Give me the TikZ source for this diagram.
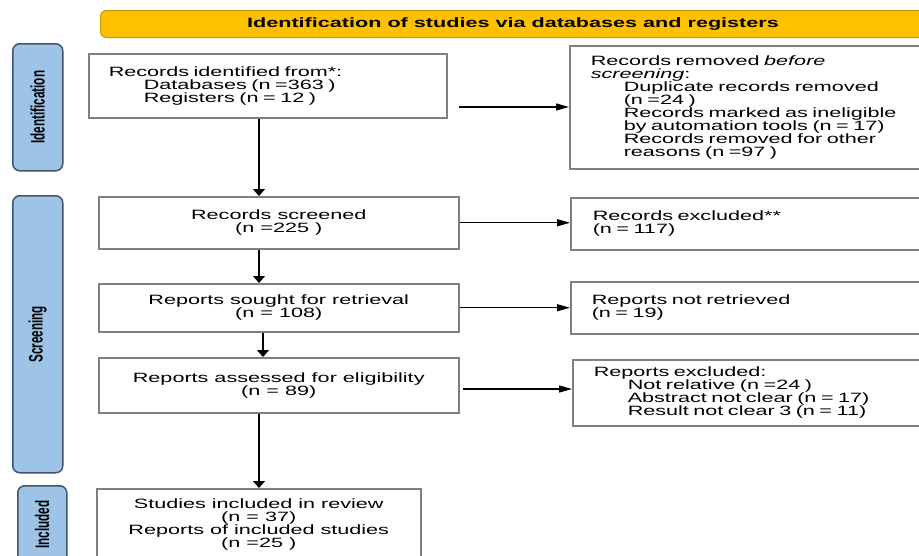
\documentclass[tikz,border=0pt]{standalone}
\usepackage{fontspec}
\setmainfont{Liberation Sans}[FakeStretch=1.6]
\newfontfamily\sidefont{Liberation Sans}[FakeStretch=0.6]
\usetikzlibrary{arrows.meta}
\definecolor{bannerfill}{HTML}{FFC000}
\definecolor{bannerdraw}{HTML}{C99A00}
\definecolor{sidefill}{HTML}{9DC3E6}
\definecolor{sidedraw}{HTML}{44546A}
\definecolor{boxdraw}{HTML}{808080}
\tikzset{
  mainfont/.style={font=\fontsize{13.5}{13}\selectfont},
  flowbox/.style={draw=boxdraw, line width=1.5pt, fill=white, anchor=north west, inner ysep=2pt, mainfont},
  leftbox/.style={flowbox, align=left, inner xsep=#1, text width=390pt-2*#1},
  midbox/.style={flowbox, align=center, inner xsep=0pt},
  sidebox/.style={draw=sidedraw, fill=sidefill, line width=1.5pt, rounded corners=7pt, anchor=north west, inner sep=0pt},
  sidelabel/.style={rotate=90, font=\sidefont\fontsize{19.5}{19}\selectfont\bfseries, inner sep=0pt},
  downarr/.style={-{Triangle[length=7pt,width=12pt]}, line width=1.3pt, black},
  sidearr/.style={-{Triangle[length=13pt,width=7pt]}, line width=1.3pt, black}
}
\begin{document}
\begin{tikzpicture}[x=1pt,y=-1pt]
\useasboundingbox (0,0) rectangle (919,555);
\clip (0,0) rectangle (919,555);
\fill[white] (0,0) rectangle (919,555);

% banner
\node[draw=bannerdraw, fill=bannerfill, line width=1pt, rounded corners=6pt, anchor=north west,
      minimum width=825pt, minimum height=27pt, inner sep=0pt,
      font=\fontsize{13.5}{13}\selectfont\bfseries] (banner) at (100,10)
      {Identification of studies via databases and registers};

% side labels
\node[sidebox, minimum width=50pt, minimum height=127pt] (sideid) at (12,43) {};
\node[sidelabel] (sideidt) at (sideid.center) {Identification};
\node[sidebox, minimum width=50pt, minimum height=277pt] (sidesc) at (12,195) {};
\node[sidelabel] (sidesct) at (sidesc.center) {Screening};
\node[sidebox, minimum width=49pt, minimum height=78pt] (sidein) at (17,485) {};
\node[sidelabel] (sideint) at (sidein.center) {Included};

% left column
\node[flowbox, align=left, inner xsep=20pt, text width=318pt, minimum height=64pt] (ident) at (88,53)
  {Records identified from*:\\
   \hspace*{35pt}Databases (n =363 )\\
   \hspace*{35pt}Registers (n = 12 )};
\node[midbox, minimum width=360pt, minimum height=52pt] (screened) at (98,196)
  {Records screened\\(n =225 )};
\node[midbox, minimum width=360pt, minimum height=48pt] (sought) at (98,283)
  {Reports sought for retrieval\\(n = 108)};
\node[midbox, minimum width=360pt, minimum height=55pt] (assessed) at (98,357)
  {Reports assessed for eligibility\\(n = 89)};
\node[midbox, minimum width=324pt, minimum height=72pt] (incl) at (96,488)
  {Studies included in review\\(n = 37)\\Reports of included studies\\(n =25 )};

% right column
\node[leftbox=21pt, minimum height=123pt] (removed) at (569,45)
  {Records removed \textit{before}\\
   \textit{screening}:\\
   \hspace*{33pt}Duplicate records removed\\
   \hspace*{33pt}(n =24 )\\
   \hspace*{33pt}Records marked as ineligible\\
   \hspace*{33pt}by automation tools (n = 17)\\
   \hspace*{33pt}Records removed for other\\
   \hspace*{33pt}reasons (n =97 )};
\node[leftbox=22pt, minimum height=52pt] (excl) at (570,197)
  {Records excluded**\\(n = 117)};
\node[leftbox=21pt, minimum height=52pt] (notret) at (570,281)
  {Reports not retrieved\\(n = 19)};
\node[leftbox=21pt, minimum height=66pt] (repexc) at (572,359)
  {Reports excluded:\\
   \hspace*{34pt}Not relative (n =24 )\\
   \hspace*{34pt}Abstract not clear (n = 17)\\
   \hspace*{34pt}Result not clear 3 (n = 11)};

% vertical connectors
\coordinate (colA) at (259,0);
\coordinate (colB) at (263,0);
\draw[downarr] (ident.south -| colA) -- (screened.north -| colA);
\draw[downarr] (screened.south -| colA) -- (sought.north -| colA);
\draw[downarr] (sought.south -| colB) -- (assessed.north -| colB);
\draw[downarr] (assessed.south -| colA) -- (incl.north -| colA);

% horizontal connectors
\coordinate (startR) at (459,107);
\draw[sidearr] (startR) -- (startR -| removed.west);
\draw[sidearr] (screened.east) -- (screened.east -| excl.west);
\draw[sidearr] (sought.east) -- (sought.east -| notret.west);
\coordinate (startE) at (463,389);
\draw[sidearr] (startE) -- (startE -| repexc.west);
\end{tikzpicture}
\end{document}
